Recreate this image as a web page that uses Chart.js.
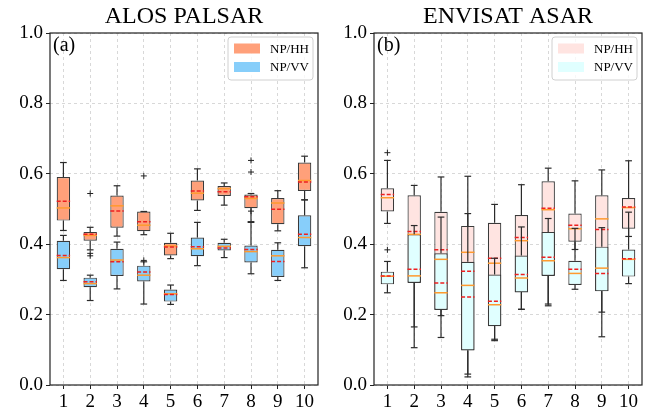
<!DOCTYPE html>
<html><head><meta charset="utf-8">
<script src="https://cdn.jsdelivr.net/npm/chart.js@4.4.0/dist/chart.umd.min.js"></script>
<style>
html,body{margin:0;padding:0;background:#fff;width:652px;height:415px;overflow:hidden}
canvas{position:absolute;top:0}
</style></head><body>
<canvas id="chartA" style="left:0px" width="326" height="415"></canvas>
<canvas id="chartB" style="left:324px" width="326" height="415"></canvas>
<script>
// ---------- data ----------
const categories = ['1','2','3','4','5','6','7','8','9','10'];
const yTicks = [0.0, 0.2, 0.4, 0.6, 0.8, 1.0];
const seriesLabels = ['NP/HH', 'NP/VV'];

// (a) ALOS PALSAR, NP/HH
const alosHHLow    = [0.439, 0.384, 0.423, 0.427, 0.359, 0.496, 0.511, 0.464, 0.438, 0.526];
const alosHHQ1     = [0.467, 0.410, 0.447, 0.437, 0.368, 0.524, 0.537, 0.502, 0.457, 0.551];
const alosHHMedian = [0.503, 0.425, 0.509, 0.454, 0.395, 0.545, 0.558, 0.530, 0.517, 0.581];
const alosHHMean   = [0.522, 0.428, 0.494, 0.464, 0.392, 0.551, 0.549, 0.535, 0.499, 0.577];
const alosHHQ3     = [0.591, 0.435, 0.538, 0.493, 0.404, 0.581, 0.565, 0.541, 0.531, 0.632];
const alosHHHigh   = [0.632, 0.448, 0.566, 0.493, 0.431, 0.614, 0.574, 0.544, 0.552, 0.650];
const alosHHFliers = [[], [0.544, 0.374, 0.367], [], [0.594], [], [], [], [0.638, 0.605], [], []];

// (a) ALOS PALSAR, NP/VV
const alosVVLow    = [0.297, 0.240, 0.273, 0.230, 0.229, 0.339, 0.362, 0.316, 0.297, 0.333];
const alosVVQ1     = [0.329, 0.278, 0.310, 0.294, 0.237, 0.366, 0.382, 0.348, 0.307, 0.394];
const alosVVMedian = [0.362, 0.288, 0.355, 0.312, 0.259, 0.387, 0.394, 0.379, 0.367, 0.419];
const alosVVMean   = [0.368, 0.293, 0.350, 0.321, 0.257, 0.393, 0.389, 0.385, 0.351, 0.428];
const alosVVQ3     = [0.410, 0.305, 0.387, 0.339, 0.271, 0.419, 0.404, 0.396, 0.384, 0.482];
const alosVVHigh   = [0.425, 0.312, 0.406, 0.350, 0.284, 0.462, 0.414, 0.462, 0.404, 0.526];
const alosVVFliers = [[], [], [], [0.354], [], [], [], [0.494], [], []];

// (b) ENVISAT ASAR, NP/HH
const envHHLow    = [0.459, 0.165, 0.197, 0.031, 0.130, 0.215, 0.230, 0.385, 0.207, 0.422];
const envHHQ1     = [0.493, 0.291, 0.214, 0.099, 0.168, 0.264, 0.311, 0.407, 0.267, 0.444];
const envHHMedian = [0.532, 0.428, 0.357, 0.377, 0.346, 0.410, 0.498, 0.444, 0.472, 0.504];
const envHHMean   = [0.541, 0.436, 0.384, 0.323, 0.360, 0.419, 0.502, 0.454, 0.442, 0.506];
const envHHQ3     = [0.559, 0.539, 0.492, 0.452, 0.461, 0.483, 0.579, 0.487, 0.539, 0.531];
const envHHHigh   = [0.638, 0.567, 0.591, 0.593, 0.513, 0.569, 0.616, 0.580, 0.611, 0.637];
const envHHFliers = [[0.660], [], [], [], [], [], [], [], [], []];

// (b) ENVISAT ASAR, NP/VV
const envVVLow    = [0.262, 0.106, 0.135, 0.023, 0.126, 0.215, 0.225, 0.272, 0.137, 0.288];
const envVVQ1     = [0.286, 0.290, 0.213, 0.098, 0.167, 0.263, 0.310, 0.284, 0.266, 0.308];
const envVVMedian = [0.309, 0.310, 0.262, 0.283, 0.228, 0.304, 0.353, 0.317, 0.332, 0.357];
const envVVMean   = [0.310, 0.329, 0.290, 0.250, 0.238, 0.314, 0.363, 0.329, 0.317, 0.359];
const envVVQ3     = [0.322, 0.428, 0.374, 0.350, 0.314, 0.368, 0.435, 0.353, 0.393, 0.385];
const envVVHigh   = [0.351, 0.453, 0.477, 0.487, 0.360, 0.449, 0.473, 0.445, 0.447, 0.491];
const envVVFliers = [[0.384], [], [], [], [], [], [], [], [], []];

// ---------- drawing ----------
const SERIF = "'Liberation Serif', 'DejaVu Serif', serif";
Chart.defaults.font.family = SERIF;
Chart.defaults.color = '#000';

const boxLines = {
  id: 'boxLines',
  afterDatasetsDraw(chart) {
    const {ctx, scales: {x, y}} = chart;
    const unit = x.getPixelForValue(1) - x.getPixelForValue(0);
    const halfBox = unit * 0.25, halfCap = unit * 0.125;
    const seg = (x1, y1, x2, y2) => { ctx.beginPath(); ctx.moveTo(x1, y1); ctx.lineTo(x2, y2); ctx.stroke(); };
    ctx.save();
    chart.data.datasets.forEach(ds => {
      const s = ds.stats;
      for (let i = 0; i < s.low.length; i++) {
        const cx = x.getPixelForValue(i);
        const py = v => y.getPixelForValue(v);
        ctx.setLineDash([]);
        ctx.strokeStyle = '#2b2b2b'; ctx.lineWidth = 1.2;
        seg(cx, py(s.q1[i]), cx, py(s.low[i]));
        seg(cx, py(s.q3[i]), cx, py(s.high[i]));
        seg(cx - halfCap, py(s.low[i]), cx + halfCap, py(s.low[i]));
        seg(cx - halfCap, py(s.high[i]), cx + halfCap, py(s.high[i]));
        ctx.strokeStyle = '#ff9a2e'; ctx.lineWidth = 1.5;
        seg(cx - halfBox, py(s.median[i]), cx + halfBox, py(s.median[i]));
        ctx.strokeStyle = '#222'; ctx.lineWidth = 1;
        s.fliers[i].forEach(v => {
          const fy = py(v);
          seg(cx - 3, fy, cx + 3, fy); seg(cx, fy - 3, cx, fy + 3);
        });
        ctx.strokeStyle = '#ee2020'; ctx.lineWidth = 1.5; ctx.setLineDash([4, 2]);
        seg(cx - halfBox, py(s.mean[i]), cx + halfBox, py(s.mean[i]));
      }
    });
    ctx.restore();
  }
};

const frameAndLegend = {
  id: 'frameAndLegend',
  afterDraw(chart, args, opts) {
    const {ctx, chartArea: a} = chart;
    ctx.save();
    ctx.strokeStyle = '#222'; ctx.lineWidth = 1.2; ctx.setLineDash([]);
    ctx.strokeRect(a.left, a.top, a.right - a.left, a.bottom - a.top);
    // panel label
    ctx.fillStyle = '#000';
    ctx.font = '20px ' + SERIF;
    ctx.textBaseline = 'top'; ctx.textAlign = 'left';
    ctx.fillText(opts.panel, a.left + 3, a.top + 3);
    // legend
    const w = 85, h = 43;
    const lx = a.right - 5 - w, ly = a.top + 4;
    ctx.beginPath();
    ctx.roundRect(lx, ly, w, h, 3);
    ctx.fillStyle = 'rgba(255,255,255,0.8)'; ctx.fill();
    ctx.strokeStyle = '#d0d0d0'; ctx.lineWidth = 1; ctx.stroke();
    ctx.font = '13px ' + SERIF;
    ctx.textBaseline = 'middle';
    chart.data.datasets.forEach((ds, k) => {
      const cy = ly + 11.5 + k * 18.5;
      ctx.fillStyle = ds.backgroundColor;
      ctx.fillRect(lx + 6, cy - 5, 26, 10);
      ctx.fillStyle = '#000';
      ctx.fillText(ds.label, lx + 42, cy + 1);
    });
    ctx.restore();
  }
};

function makeStats(low, q1, median, mean, q3, high, fliers) {
  return {low, q1, median, mean, q3, high, fliers};
}

function build(id, title, panel, statsList, colors) {
  new Chart(document.getElementById(id), {
    type: 'bar',
    data: {
      labels: categories,
      datasets: statsList.map((s, k) => ({
        label: seriesLabels[k],
        data: s.q1.map((v, i) => [v, s.q3[i]]),
        stats: s,
        order: statsList.length - k,   // later series drawn on top
        backgroundColor: colors[k],
        borderColor: '#3a3a3a',
        borderWidth: 1.2,
        borderSkipped: false,
        grouped: false,
        barPercentage: 0.5,
        categoryPercentage: 1.0
      }))
    },
    options: {
      responsive: false,
      animation: false,
      devicePixelRatio: 1,
      layout: {padding: {left: 0, right: 8, top: 0, bottom: 0}},
      plugins: {
        legend: {display: false},
        tooltip: {enabled: false},
        title: {
          display: true, text: title, fullSize: false, color: '#000',
          font: {family: SERIF, size: 24, weight: 'normal', lineHeight: 1.2},
          padding: {top: 2, bottom: 2.2}
        },
        frameAndLegend: {panel}
      },
      scales: {
        x: {
          grid: {offset: false, color: '#cfcfcf', lineWidth: 0.8, tickColor: '#222', tickLength: 4, tickWidth: 1},
          border: {display: false, dash: [3, 3]},
          ticks: {font: {size: 19}, color: '#000', padding: 2, maxRotation: 0},
          afterFit(s) { s.height = 30; }
        },
        y: {
          min: 0, max: 1,
          afterBuildTicks(s) { s.ticks = yTicks.map(v => ({value: v})); },
          grid: {color: '#cfcfcf', lineWidth: 0.8, tickColor: '#222', tickLength: 4, tickWidth: 1},
          border: {display: false, dash: [3, 3]},
          ticks: {font: {size: 19}, color: '#000', padding: 3, callback: v => Number(v).toFixed(1)},
          afterFit(s) { s.width = 50; }
        }
      }
    },
    plugins: [boxLines, frameAndLegend]
  });
}

build('chartA', 'ALOS PALSAR', '(a)', [
  makeStats(alosHHLow, alosHHQ1, alosHHMedian, alosHHMean, alosHHQ3, alosHHHigh, alosHHFliers),
  makeStats(alosVVLow, alosVVQ1, alosVVMedian, alosVVMean, alosVVQ3, alosVVHigh, alosVVFliers)
], ['#FFA07A', '#87CEFA']);

build('chartB', 'ENVISAT ASAR', '(b)', [
  makeStats(envHHLow, envHHQ1, envHHMedian, envHHMean, envHHQ3, envHHHigh, envHHFliers),
  makeStats(envVVLow, envVVQ1, envVVMedian, envVVMean, envVVQ3, envVVHigh, envVVFliers)
], ['#FFE4E1', '#E0FFFF']);
</script>
</body></html>
